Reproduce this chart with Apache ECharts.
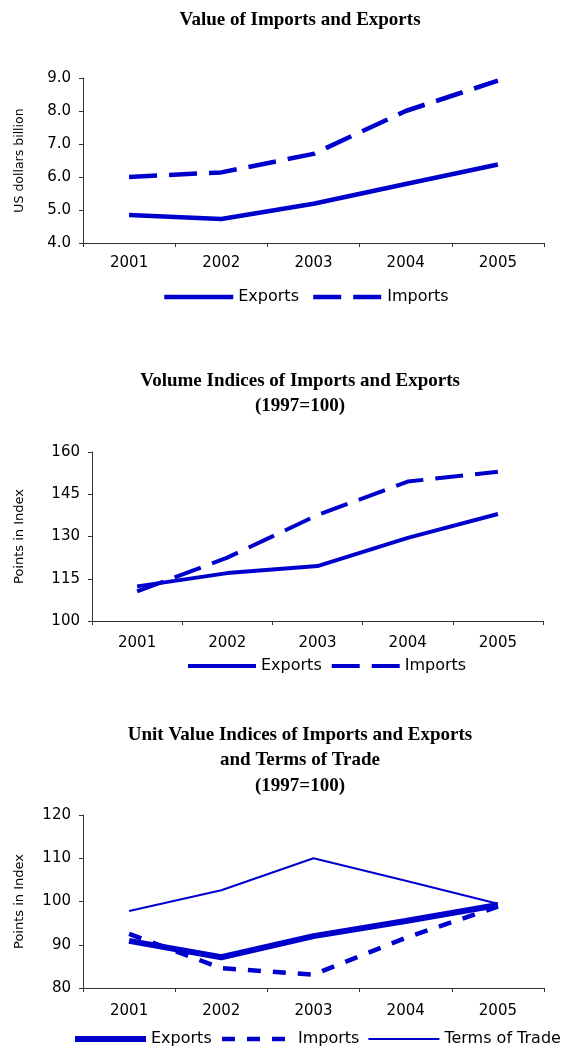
<!DOCTYPE html>
<html>
<head>
<meta charset="utf-8">
<script src="https://cdn.jsdelivr.net/npm/echarts@6/dist/echarts.min.js"></script>
<style>
  html, body { margin: 0; padding: 0; background: #fff; }
  #chart { width: 573px; height: 1048px; }
</style>
</head>
<body>
<div id="chart"></div>
<script>
var years = ['2001', '2002', '2003', '2004', '2005'];

// Value of imports and exports, US$ billion
var valueExports = [4.85, 4.73, 5.19, 5.79, 6.38];
var valueImports = [6.0, 6.14, 6.7, 8.0, 8.92];

// Volume indices (1997=100)
var volumeExports = [112.3, 117.0, 119.5, 129.5, 138.0];
var volumeImports = [110.5, 122.5, 137.6, 149.5, 153.0];

// Unit value indices (1997=100)
var unitExports = [90.9, 87.1, 92.0, 95.5, 99.2];
var unitImports = [92.5, 84.6, 83.1, 91.6, 98.8];
var termsOfTrade = [97.8, 102.6, 110.0, 104.8, 99.5];

var blue = '#0000cc';
var axisColor = '#333';
var sans = 'DejaVu Sans';

var chart = echarts.init(document.getElementById('chart'));

function xAxis(idx, margin) {
	return {
		type: 'category',
		gridIndex: idx,
		data: years,
		boundaryGap: true,
		axisLine: { lineStyle: { color: axisColor, width: 1 } },
		axisTick: { show: true, length: 4, lineStyle: { color: axisColor } },
		axisLabel: { color: '#000', fontFamily: sans, fontSize: 15, margin: margin }
	};
}

function yAxis(idx, min, max, step, name, gap, nameSize, digits) {
	return {
		type: 'value',
		gridIndex: idx,
		min: min,
		max: max,
		interval: step,
		name: name,
		nameLocation: 'middle',
		nameRotate: 90,
		nameGap: gap,
		nameTextStyle: { color: '#000', fontFamily: sans, fontSize: nameSize },
		splitLine: { show: false },
		axisLine: { show: true, lineStyle: { color: axisColor, width: 1 } },
		axisTick: { show: true, length: 4, lineStyle: { color: axisColor } },
		axisLabel: {
			color: '#000', fontFamily: sans, fontSize: 15, margin: 12,
			formatter: function (v) { return v.toFixed(digits); }
		}
	};
}

function line(name, data, idx, width, dash) {
	return {
		name: name,
		type: 'line',
		xAxisIndex: idx,
		yAxisIndex: idx,
		data: data,
		symbol: 'none',
		legendHoverLink: false,
		lineStyle: { color: blue, width: width, type: dash },
		itemStyle: { color: blue }
	};
}

function legend(left, top, itemWidth, textGap, gap, names) {
	return {
		left: left, top: top, itemWidth: itemWidth, itemHeight: 14,
		itemGap: gap, itemTextGap: textGap, padding: 0,
		itemStyle: { opacity: 0 },
		lineStyle: { width: 'inherit' },
		textStyle: { fontFamily: sans, fontSize: 16, color: '#000' },
		formatter: function (n) { return n.trim(); },
		data: names
	};
}

var titleStyle = { fontFamily: 'Liberation Serif', fontWeight: 'bold', fontSize: 19, color: '#000', lineHeight: 25.5 };

var option = {
	animation: false,
	backgroundColor: '#fff',
	title: [
		{ text: 'Value of Imports and Exports', left: 300, top: 7, padding: 0, textAlign: 'center', textStyle: titleStyle },
		{ text: 'Volume Indices of Imports and Exports\n(1997=100)', left: 300, top: 368, padding: 0, textAlign: 'center', textStyle: titleStyle },
		{ text: 'Unit Value Indices of Imports and Exports\nand Terms of Trade\n(1997=100)', left: 300, top: 722, padding: 0, textAlign: 'center', textStyle: titleStyle }
	],
	// series names are padded so each panel keeps its own legend
	legend: [
		legend(162, 289, 69, 8, 12, ['Exports', 'Imports']),
		legend(186, 658, 68, 3, 8, ['Exports ', 'Imports ']),
		legend(72, 1031, 71, 3, 8, ['Exports  ', 'Imports  ', 'Terms of Trade'])
	],
	grid: [
		{ left: 83, right: 29, top: 78, height: 165 },
		{ left: 92, right: 30, top: 452, height: 169 },
		{ left: 83, right: 29, top: 815, height: 173 }
	],
	xAxis: [xAxis(0, 13), xAxis(1, 15), xAxis(2, 16)],
	yAxis: [
		yAxis(0, 4, 9, 1, 'US dollars billion', 57, 12.5, 1),
		yAxis(1, 100, 160, 15, 'Points in Index', 66, 13, 0),
		yAxis(2, 80, 120, 10, 'Points in Index', 57, 13, 0)
	],
	series: [
		line('Exports', valueExports, 0, 4.5, 'solid'),
		line('Imports', valueImports, 0, 4.5, [28, 12]),
		line('Exports ', volumeExports, 1, 4, 'solid'),
		line('Imports ', volumeImports, 1, 4, [28, 12]),
		line('Exports  ', unitExports, 2, 6, 'solid'),
		line('Imports  ', unitImports, 2, 4.5, [13, 12]),
		line('Terms of Trade', termsOfTrade, 2, 2, 'solid')
	]
};

chart.setOption(option);
</script>
</body>
</html>
